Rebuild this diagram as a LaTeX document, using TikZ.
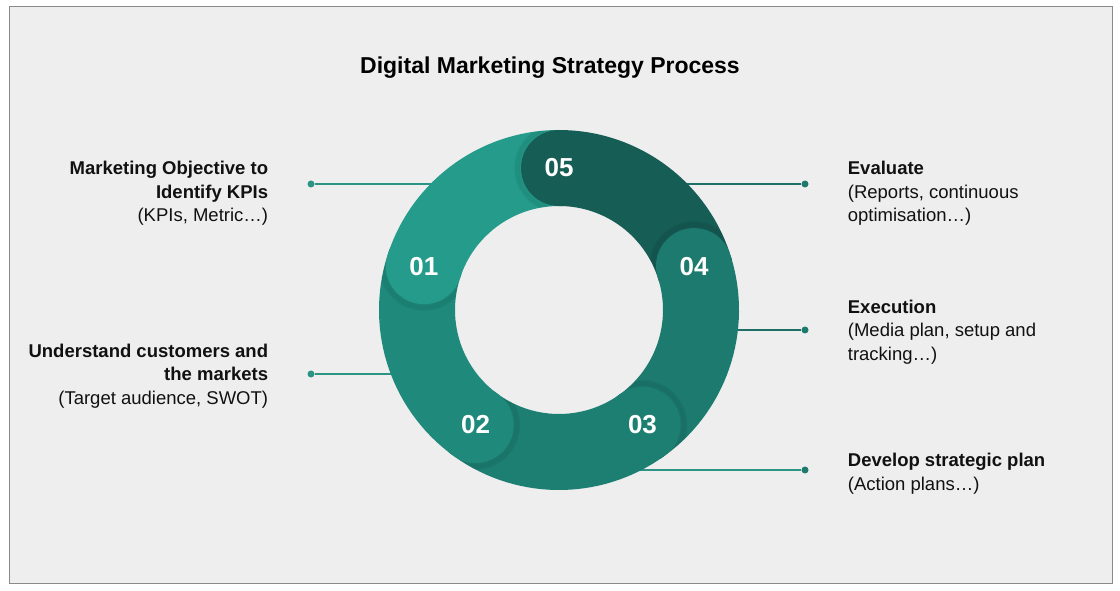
\documentclass[tikz,border=0pt]{standalone}
\usepackage{fontspec}
\setmainfont{Liberation Sans}
\usetikzlibrary{positioning,calc}
\definecolor{bgcol}{HTML}{EEEEEE}
\definecolor{framecol}{HTML}{8A8A8A}
\definecolor{segA}{HTML}{259C8B}
\definecolor{segB}{HTML}{1F8A7C}
\definecolor{segC}{HTML}{1D7F72}
\definecolor{segD}{HTML}{1C7A6E}
\definecolor{segE}{HTML}{165D55}
\definecolor{linkL}{HTML}{2B9485}
\definecolor{linkR}{HTML}{1F6F66}
\definecolor{txt}{HTML}{111111}
\tikzset{
    seg/.style={line width=76pt},
    numcap/.style={
        circle,
        minimum size=76pt,
        inner sep=0pt,
        text=white,
        font=\fontsize{26}{26}\selectfont\bfseries,
    },
    dot/.style={
        circle,
        inner sep=0pt,
        minimum size=7pt,
    },
    link/.style={line width=1.3pt},
    desc/.style={
        inner sep=0pt,
        text=txt,
        font=\fontsize{18.5}{23.5}\selectfont,
    },
}

\begin{document}
\begin{tikzpicture}[x=1pt,y=1pt]
    \useasboundingbox (0,0) rectangle (1120,590);
    \draw[fill=bgcol, draw=framecol, line width=1pt] (9,7) rectangle (1112,583);
    \node[font=\fontsize{23}{23}\selectfont\bfseries] (title) at (550,522) {Digital Marketing Strategy Process};
    \coordinate (C) at (559,280);

    \node[dot, fill=linkL] (d1) at (311,406) {};
    \node[dot, fill=linkL] (d2) at (311,216) {};
    \node[dot, fill=segD] (d3) at (805,120) {};
    \node[dot, fill=segD] (d4) at (805,260) {};
    \node[dot, fill=segD] (d5) at (805,406) {};
    \coordinate (e1) at (460,406);
    \coordinate (e2) at (420,216);
    \coordinate (e3) at (620,120);
    \coordinate (e4) at (710,260);
    \coordinate (e5) at (660,406);
    \draw[link, linkL] (d1) -- (e1);
    \draw[link, linkL] (d2) -- (e2);
    \draw[link, linkL] (d3) -- (e3);
    \draw[link, linkR] (d4) -- (e4);
    \draw[link, linkR] (d5) -- (e5);

    \node[desc, align=right, left=39pt of d1, yshift=-9.5pt] (t1) {\textbf{Marketing Objective to}\\\textbf{Identify KPIs}\\(KPIs, Metric…)};
    \node[desc, align=right, left=39pt of d2, yshift=-2pt] (t2) {\textbf{Understand customers and}\\\textbf{the markets}\\(Target audience, SWOT)};
    \node[desc, align=left, right=39pt of d3, yshift=-3.5pt] (t3) {\textbf{Develop strategic plan}\\(Action plans…)};
    \node[desc, align=left, right=39pt of d4, yshift=-2pt] (t4) {\textbf{Execution}\\(Media plan, setup and\\tracking…)};
    \node[desc, align=left, right=39pt of d5, yshift=-9.5pt] (t5) {\textbf{Evaluate}\\(Reports, continuous\\optimisation…)};

    \foreach \a/\c in {162/segA, 234/segB, 306/segC, 18/segD, 90/segE}
        \draw[seg, \c] ($(C)+(\a:142)$) arc[start angle=\a, end angle=\a-74, radius=142];

    \begin{scope}[even odd rule]
        \clip (C) circle[radius=180] (C) circle[radius=104];
        \foreach \a/\c/\t in {162/segA/01, 234/segB/02, 306/segC/03, 18/segD/04, 90/segE/05} {
            \foreach \d in {1,...,6}
                \draw[black, opacity=0.035, line width=2pt] ($(C)+(\a:142)+(\a:38+\d)$) arc[start angle=\a, end angle=\a+180, radius=38+\d];
            \node[numcap, fill=\c] (n\t) at ($(C)+(\a:142)$) {\t};
        }
    \end{scope}
\end{tikzpicture}
\end{document}
